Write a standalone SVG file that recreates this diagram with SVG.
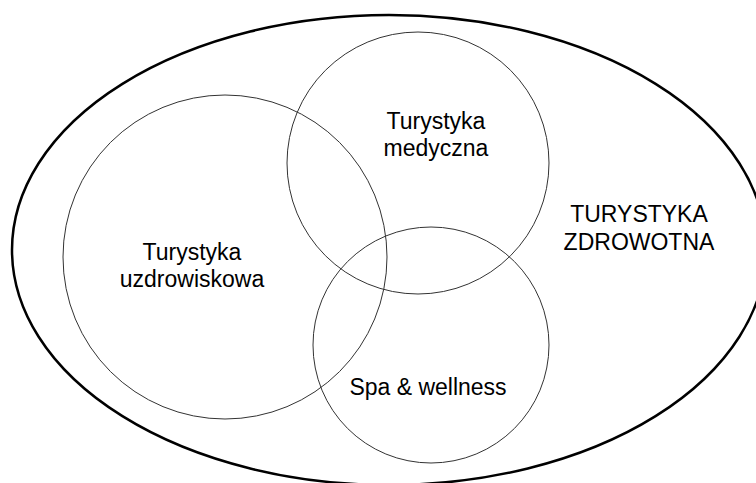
<svg xmlns="http://www.w3.org/2000/svg" width="756" height="483" viewBox="0 0 756 483">
<style>
.c{fill:none;stroke:#333;stroke-width:1}
.t{font-family:"Liberation Sans",Arial,sans-serif;font-size:23px;fill:#000;text-anchor:middle}
</style>
<rect width="756" height="483" fill="#fff"/>
<g id="zdrowotna">
<ellipse cx="389" cy="250" rx="377" ry="235" fill="none" stroke="#000" stroke-width="2.5"/>
<text class="t" x="639" y="222">TURYSTYKA</text>
<text class="t" x="639" y="250">ZDROWOTNA</text>
</g>
<g id="uzdrowiskowa">
<circle class="c" cx="225" cy="257" r="162"/>
<text class="t" x="192" y="260">Turystyka</text>
<text class="t" x="192" y="287">uzdrowiskowa</text>
</g>
<g id="medyczna">
<circle class="c" cx="418" cy="163" r="131"/>
<text class="t" x="436" y="129">Turystyka</text>
<text class="t" x="436" y="156">medyczna</text>
</g>
<g id="spa">
<circle class="c" cx="431" cy="345" r="118"/>
<text class="t" x="428" y="395">Spa &amp; wellness</text>
</g>
<g id="connectors"/>
</svg>
